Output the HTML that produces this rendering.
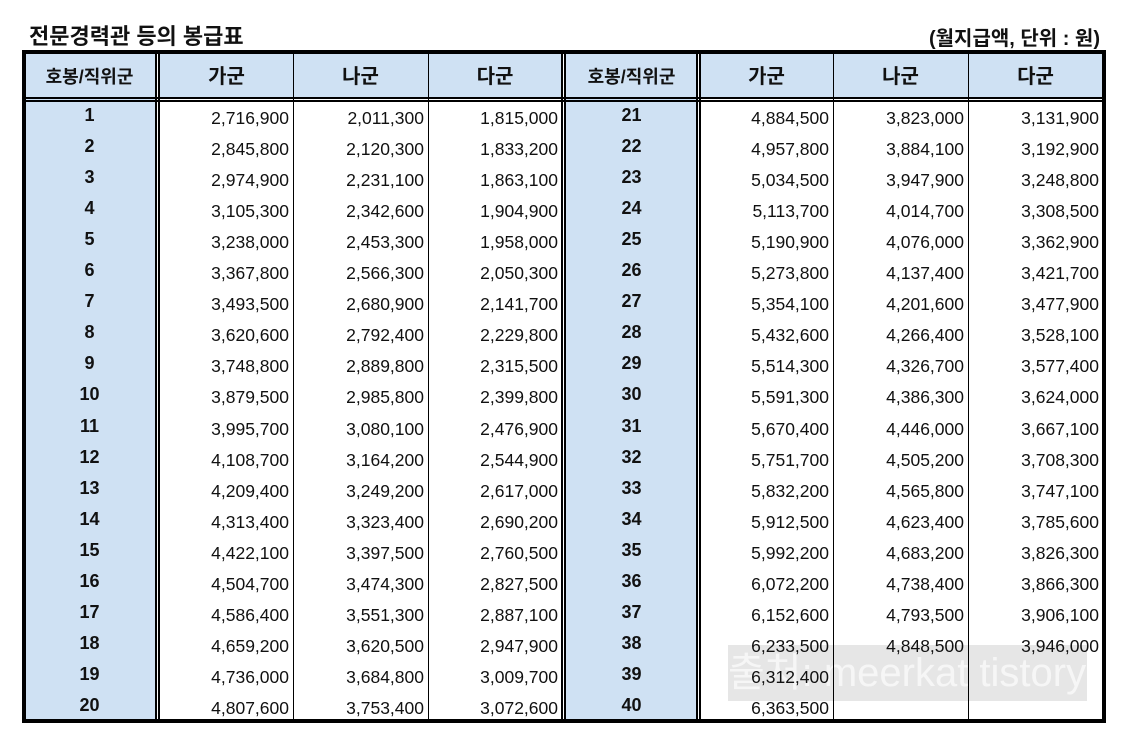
<!DOCTYPE html>
<html><head><meta charset="utf-8"><style>
body{margin:0;width:1131px;height:748px;background:#fff;position:relative;overflow:hidden;font-family:"Liberation Sans","Noto Sans CJK KR",sans-serif}
.a{position:absolute;box-sizing:border-box}
.cell{position:absolute;font-size:17.5px;color:#111;text-align:right;line-height:31px}
.step{position:absolute;font-size:18px;font-weight:bold;text-align:center;line-height:31px;color:#111}
.hd{position:absolute;font-size:20px;font-weight:bold;text-align:center;line-height:46px;color:#111}
</style></head><body>
<div class="a" style="left:29px;top:19px;font-size:22px;font-weight:bold;color:#111">전문경력관 등의 봉급표</div>
<div class="a" style="right:31px;top:22px;font-size:20px;font-weight:bold;color:#111">(월지급액, 단위 : 원)</div>
<div id="tbl" style="position:absolute;left:0;top:0;width:1131px;height:748px"></div>
<script>
const gaL=[2716900,2845800,2974900,3105300,3238000,3367800,3493500,3620600,3748800,3879500,3995700,4108700,4209400,4313400,4422100,4504700,4586400,4659200,4736000,4807600];
const naL=[2011300,2120300,2231100,2342600,2453300,2566300,2680900,2792400,2889800,2985800,3080100,3164200,3249200,3323400,3397500,3474300,3551300,3620500,3684800,3753400];
const daL=[1815000,1833200,1863100,1904900,1958000,2050300,2141700,2229800,2315500,2399800,2476900,2544900,2617000,2690200,2760500,2827500,2887100,2947900,3009700,3072600];
const gaR=[4884500,4957800,5034500,5113700,5190900,5273800,5354100,5432600,5514300,5591300,5670400,5751700,5832200,5912500,5992200,6072200,6152600,6233500,6312400,6363500];
const naR=[3823000,3884100,3947900,4014700,4076000,4137400,4201600,4266400,4326700,4386300,4446000,4505200,4565800,4623400,4683200,4738400,4793500,4848500,null,null];
const daR=[3131900,3192900,3248800,3308500,3362900,3421700,3477900,3528100,3577400,3624000,3667100,3708300,3747100,3785600,3826300,3866300,3906100,3946000,null,null];
const headers=["가군","나군","다군"];
const T=document.getElementById('tbl');
const hdB=101,rowH=31.05;
function box(x,y,w,h,bg){const d=document.createElement('div');d.className='a';d.style.cssText=`left:${x}px;top:${y}px;width:${w}px;height:${h}px;background:${bg}`;T.appendChild(d);return d;}
const f1=box(22,51,135,671,'#cfe1f3');


const f2=box(566,51,131,671,'#cfe1f3');


const h1=box(160,51,402,48,'#cfe1f3');


const h2=box(700,51,405,48,'#cfe1f3');


const wm=box(728,645,359,56,'#e6e6e6');


wm.style.color='#f6f6f6';wm.style.fontSize='40px';wm.style.lineHeight='56px';wm.style.whiteSpace='nowrap';wm.style.overflow='hidden';
wm.textContent='출처: meerkat tistory';
function ln(x,y,w,h){return box(x,y,w,h,'#000');}
ln(22,50,1084,4);ln(22,719,1084,4);ln(22,50,4,673);ln(1102,50,4,673);
ln(22,97,1084,2);ln(22,100,1084,2);
[[155,158],[561,564],[696,699]].forEach(p=>{ln(p[0],50,2,673);ln(p[1],50,2,673);});
[293,428,833,968].forEach(x=>ln(x,52,1,670));
const cols=[[160,293],[293,428],[428,562],[700,833],[833,968],[968,1103]];
function hd(x,w,t){const d=document.createElement('div');d.className='hd';d.style.cssText=`left:${x}px;top:54px;width:${w}px`;d.textContent=t;T.appendChild(d);return d;}
const s1=hd(22,135,'호봉/직위군');s1.style.fontSize='18px';


const s2=hd(566,131,'호봉/직위군');s2.style.fontSize='18px';


cols.forEach((c,i)=>{const d=hd(c[0],c[1]-c[0],headers[i%3]);

});
const data=[gaL,naL,daL,gaR,naR,daR];
const fmt=v=>v==null?'':v.toLocaleString('en-US');
for(let r=0;r<20;r++){
 const y=hdB+r*rowH;
 [[22,135,r+1],[566,131,r+21]].forEach(s=>{const d=document.createElement('div');d.className='step';d.style.cssText=`left:${s[0]}px;top:${y-1}px;width:${s[1]}px`;d.textContent=s[2];
 
 
 T.appendChild(d);});
 cols.forEach((c,i)=>{const d=document.createElement('div');d.className='cell';d.style.cssText=`left:${c[0]}px;top:${y+2}px;width:${c[1]-c[0]-4}px`;d.textContent=fmt(data[i][r]);
 
 
 T.appendChild(d);});
}
</script>
</body></html>
